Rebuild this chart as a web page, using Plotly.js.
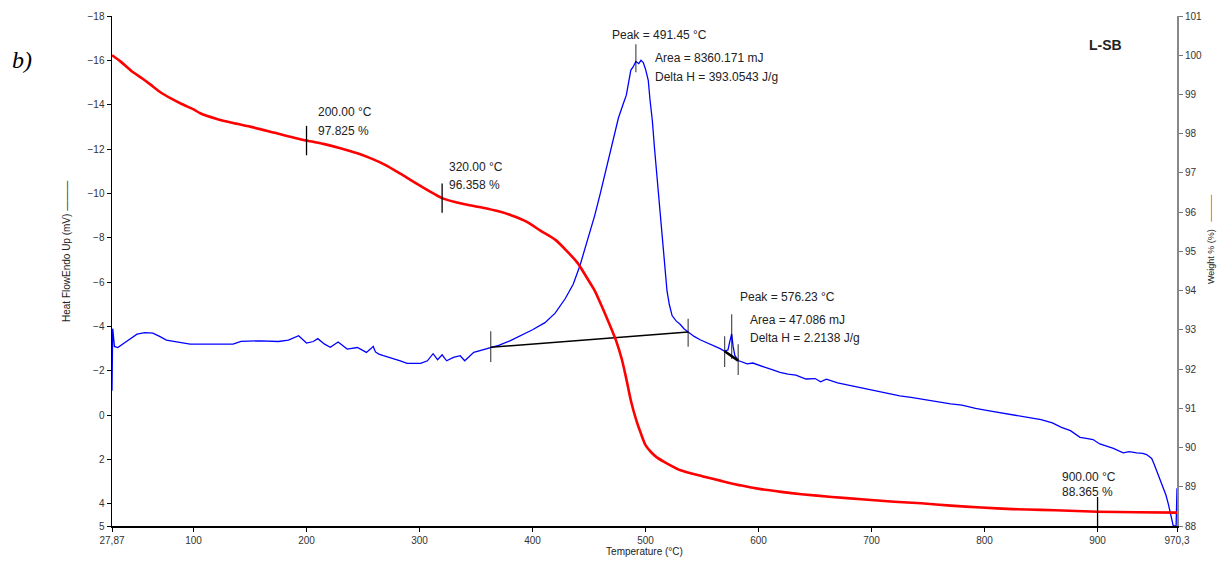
<!DOCTYPE html>
<html>
<head>
<meta charset="utf-8">
<script src="https://cdn.plot.ly/plotly-3.0.1.min.js"></script>
<style>html,body{margin:0;padding:0;background:#fff;}#chart{width:1218px;height:568px;}</style>
</head>
<body>
<div id="chart"></div>
<script>
// ---- DSC heat flow (left axis, mV, endo up) ----
const dscT = [27.87,28.5,30,33,40,50,57,64,70,76,85,97,110,125,135,142,160,175,184,193,200,206,210,216,221,228,236,245,253,257,259,261,264,268,277,283,289,301,307,312,316,320,324,330,336,340,348,356,363,
370,380,389,400,411,420,429,436,442,448,455,460,466,471,476,480,483,487,489,491.45,494,496,498,500,502.4,504,506,508,510.3,512.5,514.7,517,519,521,523.5,527,530.6,534,537.7,543,548.3,555,561.6,566,570,573,574.5,576.23,577.5,579,582,586,590,595,601,606,612,619,626,633,642,650,655,660,670,681,690,700,712,725,735,748,760,770,780,792,803,814,825,838,850,860,868,876,884.5,890,896,902,908,914,922.7,928,934.6,940,943.4,947.9,950,952.3,955,958.2,960.5,962.6,965,967,969.5,970.3];
const dscV = [-1.1,-3.9,-3.1,-3.05,-3.3,-3.65,-3.72,-3.7,-3.55,-3.38,-3.3,-3.2,-3.2,-3.22,-3.2,-3.33,-3.35,-3.32,-3.38,-3.58,-3.25,-3.32,-3.45,-3.2,-3.06,-3.3,-2.98,-3.05,-2.83,-3.0,-3.1,-2.85,-2.75,-2.68,-2.55,-2.45,-2.33,-2.33,-2.45,-2.77,-2.5,-2.72,-2.45,-2.6,-2.68,-2.45,-2.83,-2.95,-3.06,
-3.15,-3.35,-3.58,-3.85,-4.17,-4.6,-5.26,-5.9,-6.75,-7.8,-9.0,-10.0,-11.27,-12.4,-13.4,-14.0,-14.43,-15.56,-15.7,-15.95,-15.85,-16.0,-15.9,-15.6,-15.1,-14.2,-13.3,-12.0,-10.6,-9.2,-7.88,-6.6,-5.6,-5.0,-4.49,-4.25,-4.1,-3.9,-3.75,-3.55,-3.4,-3.25,-3.13,-3.0,-2.88,-2.95,-3.3,-3.66,-3.1,-2.7,-2.46,-2.4,-2.31,-2.35,-2.23,-2.15,-2.05,-1.93,-1.85,-1.8,-1.63,-1.65,-1.5,-1.62,-1.45,-1.33,-1.25,-1.15,-1.0,-0.87,-0.8,-0.68,-0.6,-0.51,-0.45,-0.3,-0.2,-0.1,0.0,0.1,0.2,0.35,0.55,0.7,1.0,1.05,1.1,1.3,1.4,1.5,1.7,1.65,1.7,1.72,1.78,1.95,2.2,2.5,2.9,3.27,3.6,4.0,4.5,5.0,5.0,3.3];

// ---- TGA weight (right axis, %) ----
const tgaT = [27.87,35,45,55,62,71,80,90,100,106,120,135,150,175,200,215,230,245,257,270,283,300,320,340,355,370,381,395,407,420,430,440,447,455,461,468,474,479,483,487,492,496,500,505,510,520,531,550,567,585,602,620,638,665,691,720,744,770,797,825,850,875,900,935,970.3];
const tgaW = [100.0,99.85,99.6,99.4,99.25,99.05,98.9,98.75,98.62,98.52,98.38,98.27,98.18,98.0,97.825,97.74,97.63,97.5,97.37,97.2,96.98,96.68,96.358,96.2,96.12,96.02,95.92,95.75,95.53,95.3,95.02,94.7,94.38,94.0,93.62,93.15,92.72,92.25,91.75,91.2,90.68,90.35,90.06,89.88,89.75,89.58,89.42,89.27,89.15,89.03,88.94,88.87,88.81,88.74,88.68,88.62,88.58,88.52,88.47,88.43,88.41,88.39,88.365,88.35,88.34];

// ---- marked points ----
const tgaMarkT = [200, 320, 900];
const tgaMarkW = [97.825, 96.358, 88.365];
const dscMarkT = [491.45, 363, 537.7, 570, 576.23, 582];
const dscMarkV = [-16.1, -3.09, -3.72, -2.86, -3.54, -2.5];
const base1T = [363, 537.7];
const base1V = [-3.06, -3.75];
const base2T = [570, 582];
const base2V = [-2.88, -2.46];

// ---- ticks ----
const xTickVals = [27.87,100,200,300,400,500,600,700,800,900,970.3];
const xTickText = ['27,87','100','200','300','400','500','600','700','800','900','970,3'];
const yTickVals = [-18,-16,-14,-12,-10,-8,-6,-4,-2,0,2,4,5];
const y2TickVals = [88,89,90,91,92,93,94,95,96,97,98,99,100,101];

const FONT = 'Liberation Sans, Arial, sans-serif';

const traces = [
  {x: dscT, y: dscV, type: 'scatter', mode: 'lines', line: {color: '#0000ff', width: 1.3}, yaxis: 'y', hoverinfo: 'skip'},
  {x: tgaT, y: tgaW, type: 'scatter', mode: 'lines', line: {color: '#ff0000', width: 2.6, shape: 'spline', smoothing: 0.6}, yaxis: 'y2', hoverinfo: 'skip'},
  {x: base1T, y: base1V, type: 'scatter', mode: 'lines', line: {color: '#000', width: 1.6}, yaxis: 'y'},
  {x: base2T, y: base2V, type: 'scatter', mode: 'lines', line: {color: '#000', width: 2.6}, yaxis: 'y'},
  {x: tgaMarkT, y: tgaMarkW, type: 'scatter', mode: 'markers', yaxis: 'y2',
   marker: {symbol: 'line-ns-open', size: 21, color: '#000', line: {color: '#000', width: 1.3}}},
  {x: dscMarkT, y: dscMarkV, type: 'scatter', mode: 'markers', yaxis: 'y',
   marker: {symbol: 'line-ns-open', size: [20, 22, 20, 22, 32, 22], color: '#000', line: {color: '#000', width: 1.2}}}
];

function ann(text, xpx, ypx, opts) {
  return Object.assign({
    text: text, xref: 'paper', yref: 'paper',
    x: (xpx - 112) / 1065, y: (526 - ypx) / 510,
    xanchor: 'left', yanchor: 'middle', showarrow: false,
    font: {family: FONT, size: 12, color: '#222'}, align: 'left'
  }, opts || {});
}

const annotations = [
  ann('200.00 °C', 316, 112),
  ann('97.825 %', 316, 131),
  ann('320.00 °C', 447, 167),
  ann('96.358 %', 447, 185),
  ann('Peak = 491.45 °C', 610, 35),
  ann('Area = 8360.171 mJ', 653, 58),
  ann('Delta H = 393.0543 J/g', 653, 77),
  ann('Peak = 576.23 °C', 738, 297),
  ann('Area = 47.086 mJ', 748, 320),
  ann('Delta H = 2.2138 J/g', 748, 338),
  ann('900.00 °C', 1060, 477),
  ann('88.365 %', 1060, 492),
  ann('<b>L-SB</b>', 1087, 45, {font: {family: FONT, size: 14, color: '#222'}}),
  ann('<i>b)</i>', 10, 60, {font: {family: 'Liberation Serif, Times New Roman, serif', size: 24, color: '#000'}}),
  ann('Heat FlowEndo Up (mV) ———', 66, 252, {xanchor: 'center', textangle: -90, font: {family: FONT, size: 10, color: '#222'}}),
  ann('Weight % (%)   <span style="color:#ff0000">———</span>', 1211, 240, {xanchor: 'center', textangle: -90, font: {family: FONT, size: 9, color: '#222'}})
];

const layout = {
  width: 1218, height: 568,
  margin: {l: 112, r: 41, t: 16, b: 42, pad: 0},
  paper_bgcolor: '#fff', plot_bgcolor: '#fff',
  showlegend: false,
  xaxis: {
    range: [27.87, 970.3], tickmode: 'array', tickvals: xTickVals, ticktext: xTickText,
    ticks: 'outside', ticklen: 4, tickwidth: 1, tickcolor: '#000',
    showline: true, linecolor: '#000', linewidth: 1.5, showgrid: false, zeroline: false,
    tickfont: {family: FONT, size: 10, color: '#333'},
    title: {text: 'Temperature (°C)', font: {family: FONT, size: 10, color: '#222'}, standoff: 2}
  },
  yaxis: {
    range: [5, -18], tickmode: 'array', tickvals: yTickVals,
    ticks: 'outside', ticklen: 4, tickwidth: 1, tickcolor: '#000',
    showline: true, linecolor: '#000', linewidth: 1.5, showgrid: false, zeroline: false,
    tickfont: {family: FONT, size: 10, color: '#333'}
  },
  yaxis2: {
    range: [88, 101], overlaying: 'y', side: 'right', tickmode: 'array', tickvals: y2TickVals,
    ticks: 'outside', ticklen: 4, tickwidth: 1, tickcolor: '#777',
    showline: true, linecolor: '#888', linewidth: 2, showgrid: false, zeroline: false,
    tickfont: {family: FONT, size: 10, color: '#333'}
  },
  annotations: annotations
};

Plotly.newPlot('chart', traces, layout, {displayModeBar: false, staticPlot: true});
</script>
</body>
</html>
